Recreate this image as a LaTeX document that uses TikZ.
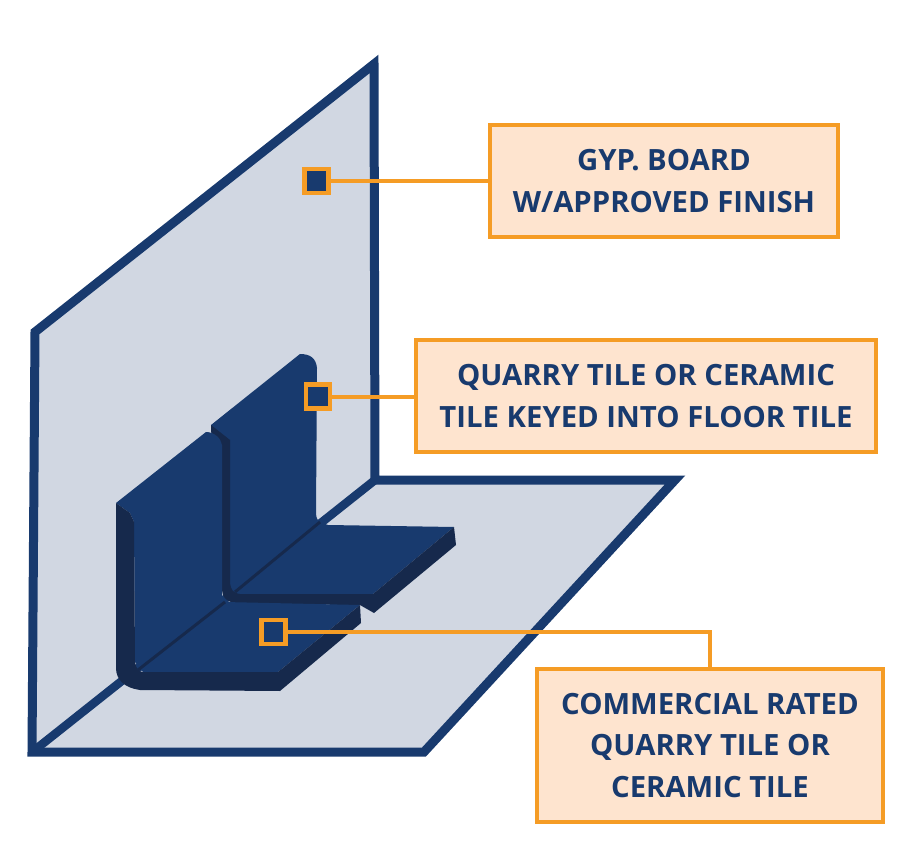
\documentclass[tikz,border=0pt]{standalone}
\usepackage{fontspec}
\setmainfont{Open Sans}
\begin{document}
\begin{tikzpicture}[x=0.03cm, y=-0.03cm]
    % One unit is one pixel of the picture
    \def\unit{0.03cm}

    \definecolor{navyColour}{HTML}{183A6E}
    \definecolor{darkColour}{HTML}{16294C}
    \definecolor{panelColour}{HTML}{D1D7E2}
    \definecolor{orangeColour}{HTML}{F59C25}
    \definecolor{labelColour}{HTML}{FEE4CF}

    \tikzset{
        panelBox/.style={fill=panelColour, draw=navyColour, line width=9*\unit, miter limit=20},
        panelFold/.style={draw=navyColour, line width=8.5*\unit},
        tileFace/.style={fill=navyColour},
        tileSide/.style={fill=darkColour},
        tileSeam/.style={draw=darkColour, line width=3*\unit},
        calloutBox/.style={draw=orangeColour, fill=labelColour, line width=4.5*\unit, text=navyColour,
            font=\bfseries\fontsize{25}{35.4}\selectfont, align=center, inner sep=0pt},
        markerBox/.style={draw=orangeColour, line width=4.5*\unit, minimum size=24*\unit, inner sep=0pt},
        leaderLine/.style={draw=orangeColour, line width=4*\unit}
    }

    \useasboundingbox (0,0) rectangle (911,845);

    % Wall and floor
    \draw[panelBox] (375,480) -- (374,64) -- (35,332) -- (32,752) -- (424,752) -- (675,480) -- cycle;
    \draw[panelFold] (375,480) -- (36,749);

    % Back tile
    \fill[tileFace] (211,425) -- (300,354) .. controls (310,354) and (316,358) .. (317,368)
        -- (316,513) .. controls (316,518) and (318,521) .. (320,522) -- (328,525) -- (454,527)
        -- (373,594) -- (225,598) -- cycle;
    \fill[tileSide] (211,425) -- (230,440) -- (230,583) .. controls (231,590) and (233,593) .. (240,594)
        -- (373,594) -- (454,527) -- (456,545) -- (374,613) -- (360,605) -- (240,604)
        .. controls (227,603) and (222,597) .. (222,590) -- (221,443) -- (211,432) -- cycle;
    \draw[tileSeam] (320,522) -- (235,592);

    % Front tile
    \fill[tileFace] (116,503) -- (206,432) .. controls (214,432) and (221,438) .. (222,445)
        -- (222,597) -- (224,602) -- (360,605) -- (278,672) -- (143,672) -- (135,662) -- (134,522) -- (130,513) -- cycle;
    \fill[tileSide] (116,503) -- (130,513) -- (134,522) -- (135,662) .. controls (136,668) and (138,672) .. (143,672)
        -- (278,672) -- (360,605) -- (361,623) -- (280,691) -- (140,690)
        .. controls (125,688) and (116,680) .. (116,668) -- cycle;
    \draw[tileSeam] (225,602) -- (138,670);

    % Markers
    \node[markerBox, fill=navyColour] (boardMarker) at (316.5,181) {};
    \node[markerBox, fill=navyColour] (keyedMarker) at (318,396.5) {};
    \node[markerBox, fill=navyColour] (floorMarker) at (273.5,632) {};

    % Callouts
    \node[calloutBox, minimum width=348*\unit, minimum height=112*\unit] (boardLabel) at (664,181)
        {GYP. BOARD\\W/APPROVED FINISH};
    \node[calloutBox, minimum width=460*\unit, minimum height=112*\unit] (keyedLabel) at (646,396)
        {QUARRY TILE OR CERAMIC\\TILE KEYED INTO FLOOR TILE};
    \node[calloutBox, minimum width=346*\unit, minimum height=153*\unit] (floorLabel) at (710,745.5)
        {COMMERCIAL RATED\\QUARRY TILE OR\\CERAMIC TILE};

    % Leaders
    \draw[leaderLine] (boardMarker) -- (boardLabel.west |- boardMarker);
    \draw[leaderLine] (keyedMarker) -- (keyedLabel.west |- keyedMarker);
    \draw[leaderLine] (floorMarker) -| (floorLabel);

\end{tikzpicture}
\end{document}
